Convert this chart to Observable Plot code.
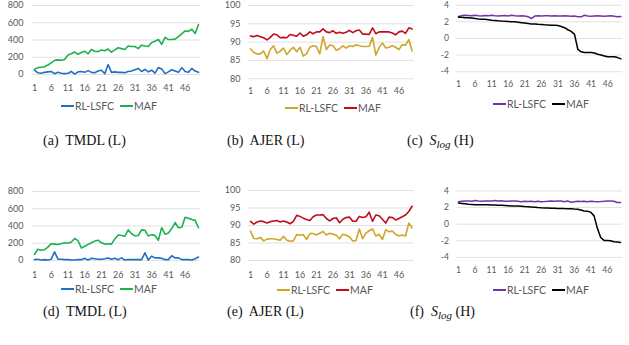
<!DOCTYPE html>
<html>
<head>
<meta charset="utf-8">
<script src="https://cdn.jsdelivr.net/npm/d3@7"></script>
<script src="https://cdn.jsdelivr.net/npm/@observablehq/plot@0.6"></script>
<style>
  html, body { margin: 0; padding: 0; background: #fff; }
  body { width: 629px; height: 345px; overflow: hidden; position: relative; }
  .panel { position: absolute; }
  .legend { position: absolute; font-family: Lato, "Open Sans", sans-serif; font-size: 10.5px; color: #595959; white-space: nowrap; line-height: 12px; }
  .legend .sw { display: inline-block; width: 13px; height: 0; border-top: 2px solid; vertical-align: middle; margin-right: 1px; position: relative; top: -1px; }
  .legend .item { margin-right: 6px; }
  .cap { position: absolute; font-family: "Liberation Serif", "DejaVu Serif", serif; font-size: 14px; color: #111; white-space: nowrap; line-height: 16px; }
  .cap sub { font-size: 11px; vertical-align: -3px; line-height: 0; }
</style>
</head>
<body>
<script>
// Episode categories (x axis) and tick labels
const episodes = [1,2,3,4,5,6,7,8,9,10,11,12,13,14,15,16,17,18,19,20,21,22,23,24,25,26,27,28,29,30,31,32,33,34,35,36,37,38,39,40,41,42,43,44,45,46,47,48,49,50];
const xTickLabels = [1,6,11,16,21,26,31,36,41,46];
const seriesNames = ["RL-LSFC", "MAF"];

// Y tick labels
const tmdlTicks = [0,200,400,600,800];
const ajerTicks = [80,85,90,95,100];
const slogTicks = [-4,-2,0,2,4];

// (a) TMDL (L)
const tmdlRL_a = [50,20,15,25,30,35,10,25,15,10,15,35,5,30,35,25,45,25,20,40,50,10,115,25,30,25,25,20,35,40,55,70,35,60,30,50,15,80,65,10,30,55,40,25,80,35,25,70,40,25];
const tmdlMAF_a = [60,80,85,90,110,135,165,170,165,175,225,240,260,235,255,270,240,290,270,265,285,275,295,260,285,310,300,290,330,325,325,300,340,330,325,370,385,405,350,430,405,405,410,440,470,505,500,525,475,580];

// (b) AJER (L)
const ajerRL_b = [88.2,87.2,86.8,86.8,87.6,85.5,88.0,89.0,87.0,87.5,88.4,86.6,87.8,88.6,87.4,88.6,86.2,86.8,88.6,89.0,88.8,86.8,91.5,88.0,89.2,89.0,87.8,88.2,89.0,88.4,89.0,88.8,89.3,89.0,88.8,88.8,88.9,91.3,86.5,88.5,89.8,88.4,88.6,89.0,88.6,88.0,89.3,89.2,90.7,87.6];
const ajerMAF_b = [91.7,91.5,91.8,91.5,91.2,90.6,91.3,92.2,92.0,91.2,91.3,91.2,92.1,91.9,91.6,92.5,91.6,92.0,92.8,92.3,92.8,92.8,93.6,92.8,92.6,93.1,92.4,92.7,92.4,92.7,93.2,92.6,93.1,93.3,92.2,92.2,92.1,93.9,92.3,92.8,92.8,92.8,92.8,92.5,92.0,92.8,93.0,92.4,93.9,93.6];

// (c) S_log (H)
const slogRL_c = [2.65,2.75,2.78,2.75,2.72,2.8,2.72,2.7,2.75,2.72,2.78,2.73,2.7,2.74,2.76,2.7,2.8,2.74,2.7,2.72,2.7,2.62,2.4,2.7,2.72,2.7,2.72,2.74,2.7,2.72,2.7,2.7,2.72,2.7,2.68,2.7,2.62,2.6,2.8,2.7,2.68,2.7,2.72,2.7,2.68,2.7,2.72,2.68,2.62,2.65];
const slogMAF_c = [2.55,2.55,2.5,2.5,2.45,2.4,2.35,2.32,2.3,2.25,2.2,2.17,2.13,2.1,2.08,2.05,2.02,2.0,1.95,1.9,1.85,1.8,1.75,1.73,1.7,1.68,1.65,1.63,1.6,1.58,1.55,1.45,1.3,1.05,0.85,0.5,-1.3,-1.6,-1.7,-1.7,-1.7,-1.75,-1.9,-2.0,-2.1,-2.2,-2.2,-2.2,-2.3,-2.45];

// (d) TMDL (L)
const tmdlRL_d = [10,15,5,10,5,15,100,15,15,10,10,5,5,10,10,25,5,25,20,15,15,20,30,15,25,10,30,5,10,10,10,10,10,90,5,50,30,30,25,10,10,55,30,30,10,10,10,5,20,40];
const tmdlMAF_d = [70,130,120,125,155,195,190,185,195,205,200,215,255,230,145,165,185,205,225,235,205,190,195,190,250,295,290,280,355,310,285,290,355,350,285,300,290,235,380,305,320,370,440,380,385,500,490,475,465,380];

// (e) AJER (L)
const ajerRL_e = [88.4,86.3,86.2,86.6,85.6,86.1,86.2,86.2,86.0,85.8,86.9,85.8,85.5,85.6,87.4,87.2,87.4,86.0,87.7,87.7,87.3,87.8,88.3,87.3,87.8,87.5,87.2,86.2,87.5,87.2,86.8,85.6,85.7,89.0,86.2,87.8,88.5,89.0,87.0,87.5,86.0,88.8,88.2,88.4,87.5,87.0,87.3,87.0,90.7,89.3];
const ajerMAF_e = [91.2,90.4,91.0,91.3,91.1,90.7,91.1,91.3,91.4,91.0,91.3,91.0,90.5,91.2,92.9,92.6,92.1,91.7,91.4,92.5,93.0,93.0,93.1,92.0,91.3,92.0,92.2,90.8,91.8,92.3,92.4,91.2,91.2,92.6,92.3,92.5,93.8,91.2,93.0,92.8,91.8,90.7,92.4,92.3,91.6,92.0,92.5,93.0,94.0,95.5];

// (f) S_log (H)
const slogRL_f = [2.7,2.75,2.8,2.8,2.75,2.85,2.78,2.75,2.8,2.8,2.8,2.85,2.78,2.82,2.75,2.75,2.8,2.78,2.75,2.7,2.75,2.72,2.75,2.7,2.75,2.7,2.72,2.75,2.8,2.75,2.78,2.8,2.7,2.78,2.65,2.7,2.75,2.72,2.75,2.7,2.75,2.72,2.7,2.72,2.75,2.8,2.78,2.75,2.6,2.6];
const slogMAF_f = [2.55,2.5,2.45,2.4,2.38,2.35,2.35,2.35,2.35,2.33,2.3,2.3,2.28,2.27,2.25,2.23,2.2,2.2,2.18,2.15,2.12,2.1,2.08,2.05,2.0,1.97,1.95,1.95,1.93,1.92,1.9,1.9,1.88,1.87,1.85,1.82,1.8,1.7,1.6,1.55,1.45,1.0,-0.5,-1.6,-1.95,-1.95,-2.0,-2.1,-2.15,-2.2];

const colTMDL = ["#1f6fc4", "#1db24f"];
const colAJER = ["#cfa52a", "#c00d1c"];
const colSLOG = ["#7333a6", "#000000"];

const panels = [
  {left:0,   top:0,   w:210, mL:34, mR:12,  mT:5,   mB:26,   xPad:10,  yPad:11, ticks:tmdlTicks, rl:tmdlRL_a, maf:tmdlMAF_a, cols:colTMDL, leg:[61,106],  cap:[43,141], capHtml:"(a)&nbsp; TMDL (L)"},
  {left:210, top:0,   w:210, mL:40, mR:8.4, mT:5,   mB:21.7, xPad:8.5, yPad:10, ticks:ajerTicks, rl:ajerRL_b, maf:ajerMAF_b, cols:colAJER, leg:[285,108], cap:[227,141], capHtml:"(b)&nbsp; AJER (L)"},
  {left:420, top:0,   w:220, mL:40, mR:9,   mT:5,   mB:25,   xPad:10,  yPad:10, ticks:slogTicks, rl:slogRL_c, maf:slogMAF_c, cols:colSLOG, leg:[493,104], cap:[407,141], capHtml:"(c)&nbsp; <i>S</i><sub><i>log</i></sub> (H)"},
  {left:0,   top:186, w:210, mL:34, mR:12,  mT:5,   mB:26,   xPad:10.8,yPad:11, ticks:tmdlTicks, rl:tmdlRL_d, maf:tmdlMAF_d, cols:colTMDL, leg:[61,289],  cap:[43,312], capHtml:"(d)&nbsp; TMDL (L)"},
  {left:210, top:186, w:210, mL:40, mR:8.4, mT:4,   mB:26,   xPad:10.8,yPad:10, ticks:ajerTicks, rl:ajerRL_e, maf:ajerMAF_e, cols:colAJER, leg:[277,290], cap:[227,312], capHtml:"(e)&nbsp; AJER (L)"},
  {left:420, top:186, w:220, mL:40, mR:9.4, mT:4.7, mB:25.3, xPad:10,  yPad:10, ticks:slogTicks, rl:slogRL_f, maf:slogMAF_f, cols:colSLOG, leg:[493,290], cap:[410,312], capHtml:"(f)&nbsp; <i>S</i><sub><i>log</i></sub> (H)"}
];

for (const p of panels) {
  const H = 100;
  const chart = Plot.plot({
    width: p.w, height: H,
    marginLeft: p.mL, marginRight: p.mR, marginTop: p.mT, marginBottom: p.mB,
    x: {domain: [1, 50]},
    y: {domain: [p.ticks[0], p.ticks[p.ticks.length - 1]]},
    style: {fontFamily: "Lato, 'Open Sans', sans-serif", fontSize: "9px", color: "#595959", background: "transparent", overflow: "visible"},
    marks: [
      Plot.ruleY(p.ticks, {stroke: "#d9d9d9", strokeWidth: 0.8, insetLeft: -2, insetRight: -2}),
      Plot.axisY(p.ticks, {tickSize: 0, tickPadding: p.yPad, tickFormat: d => String(d)}),
      Plot.axisX(xTickLabels, {tickSize: 0, tickPadding: p.xPad, tickFormat: d => String(d)}),
      Plot.lineY(p.rl, {x: episodes, stroke: p.cols[0], strokeWidth: 1.6}),
      Plot.lineY(p.maf, {x: episodes, stroke: p.cols[1], strokeWidth: 1.6})
    ]
  });
  const div = document.createElement("div");
  div.className = "panel";
  div.style.left = p.left + "px";
  div.style.top = p.top + "px";
  div.appendChild(chart);
  document.body.appendChild(div);

  const leg = document.createElement("div");
  leg.className = "legend";
  leg.style.left = p.leg[0] + "px";
  leg.style.top = (p.leg[1] - 6) + "px";
  leg.innerHTML = seriesNames.map((n, i) =>
    `<span class="item"><span class="sw" style="border-color:${p.cols[i]}"></span>${n}</span>`).join("");
  document.body.appendChild(leg);

  const cap = document.createElement("div");
  cap.className = "cap";
  cap.style.left = p.cap[0] + "px";
  cap.style.top = (p.cap[1] - 8) + "px";
  cap.innerHTML = p.capHtml;
  document.body.appendChild(cap);
}
</script>
</body>
</html>
